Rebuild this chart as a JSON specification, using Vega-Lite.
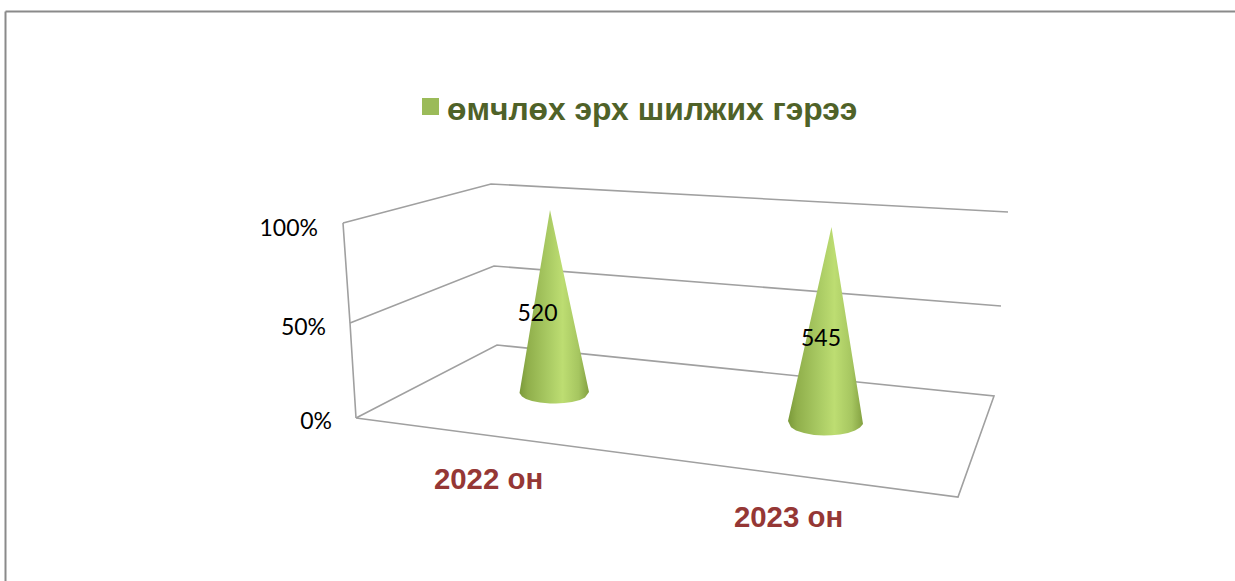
{"$schema":"https://vega.github.io/schema/vega-lite/v6.json","width":1235,"height":581,"autosize":{"type":"none"},"padding":0,"background":"white","config":{"view":{"stroke":null}},
"datasets":{
"lines":[
{"line":"frameTop","x":5.5,"y":11.5},{"line":"frameTop","x":1235,"y":11.5},
{"line":"frameLeft","x":5.5,"y":11.5},{"line":"frameLeft","x":5.5,"y":581},
{"line":"wall","x":343,"y":223},{"line":"wall","x":350,"y":323},{"line":"wall","x":356,"y":418},
{"line":"top","x":343,"y":223},{"line":"top","x":491,"y":184},{"line":"top","x":1008,"y":212},
{"line":"mid","x":350,"y":323},{"line":"mid","x":494,"y":266},{"line":"mid","x":1001,"y":306},
{"line":"floor","x":356,"y":418},{"line":"floor","x":497,"y":345},{"line":"floor","x":994,"y":396},{"line":"floor","x":958,"y":497},{"line":"floor","x":356,"y":418}
],
"cones":[
{"year":"2022 он","x":519.5,"y":393,"y2":393},{"year":"2022 он","x":522,"y":378,"y2":396.6},{"year":"2022 он","x":526,"y":354,"y2":398.9},{"year":"2022 он","x":532,"y":318,"y2":401},{"year":"2022 он","x":540,"y":270,"y2":402.5},{"year":"2022 он","x":550,"y":210,"y2":403.4},{"year":"2022 он","x":556,"y":238,"y2":403.5},{"year":"2022 он","x":564,"y":275.3,"y2":403},{"year":"2022 он","x":572,"y":312.7,"y2":402},{"year":"2022 он","x":580,"y":350,"y2":399.9},{"year":"2022 он","x":585,"y":373.3,"y2":397.6},{"year":"2022 он","x":589,"y":392,"y2":392},
{"year":"2023 он","x":788,"y":421,"y2":421},{"year":"2023 он","x":791,"y":407.6,"y2":427.3},{"year":"2023 он","x":796,"y":385.3,"y2":430.5},{"year":"2023 он","x":804,"y":349.6,"y2":433},{"year":"2023 он","x":814,"y":305,"y2":434.9},{"year":"2023 он","x":824,"y":260.4,"y2":435.5},{"year":"2023 он","x":831.5,"y":227,"y2":435.3},{"year":"2023 он","x":840,"y":280.1,"y2":434.5},{"year":"2023 он","x":848,"y":330,"y2":432.9},{"year":"2023 он","x":855,"y":373.8,"y2":430.5},{"year":"2023 он","x":860,"y":405,"y2":427.6},{"year":"2023 он","x":863,"y":424,"y2":424}
]},
"encoding":{
"x":{"field":"x","type":"quantitative","scale":{"domain":[0,1235],"nice":false,"zero":false},"axis":null},
"y":{"field":"y","type":"quantitative","scale":{"domain":[581,0],"nice":false,"zero":false},"axis":null}
},
"layer":[
{"data":{"name":"lines"},"transform":[{"filter":"indexof(datum.line,'frame')==0"}],"mark":{"type":"line","stroke":"#8a8a8a","strokeWidth":2,"interpolate":"linear"},"encoding":{"detail":{"field":"line"}}},
{"data":{"name":"lines"},"transform":[{"filter":"indexof(datum.line,'frame')!=0"},{"window":[{"op":"row_number","as":"n"}]}],"mark":{"type":"line","stroke":"#a0a0a0","strokeWidth":1.6,"interpolate":"linear"},"encoding":{"detail":{"field":"line"},"order":{"field":"n","type":"quantitative"}}},
{"data":{"name":"cones"},"mark":{"type":"area","orient":"vertical","interpolate":"linear","color":{"gradient":"linear","x1":0,"y1":0,"x2":1,"y2":0,"stops":[{"offset":0,"color":"#7a9939"},{"offset":0.12,"color":"#90af4b"},{"offset":0.4,"color":"#a8c962"},{"offset":0.62,"color":"#bddd72"},{"offset":0.85,"color":"#a6c660"},{"offset":1,"color":"#83a141"}]}},"encoding":{"y2":{"field":"y2"},"detail":{"field":"year"}}},
{"data":{"values":[{"label":"520","x":537.5,"y":313.5},{"label":"545","x":821,"y":338.5}]},"mark":{"type":"text","font":"Lato","fontSize":23,"color":"#000000","align":"center","baseline":"middle"},"encoding":{"text":{"field":"label"}}},
{"data":{"values":[{"label":"100%","x":318,"y":228.5},{"label":"50%","x":326,"y":328},{"label":"0%","x":332,"y":422}]},"mark":{"type":"text","font":"Lato","fontSize":23,"color":"#000000","align":"right","baseline":"middle"},"encoding":{"text":{"field":"label"}}},
{"data":{"values":[{"label":"2022 он","x":488.5,"y":480},{"label":"2023 он","x":788.5,"y":518}]},"mark":{"type":"text","font":"Liberation Sans","fontWeight":"bold","fontSize":29.4,"color":"#953735","align":"center","baseline":"middle"},"encoding":{"text":{"field":"label"}}},
{"data":{"values":[{"label":"өмчлөх эрх шилжих гэрээ","x":447,"y":110}]},"mark":{"type":"text","font":"Liberation Sans","fontWeight":"bold","fontSize":31.8,"color":"#4f6228","align":"left","baseline":"middle"},"encoding":{"text":{"field":"label"}}},
{"data":{"values":[{"x":422,"x2":439,"y":98,"y2":115}]},"mark":{"type":"rect","color":"#9bbb59"},"encoding":{"x2":{"field":"x2"},"y2":{"field":"y2"}}}
]}
